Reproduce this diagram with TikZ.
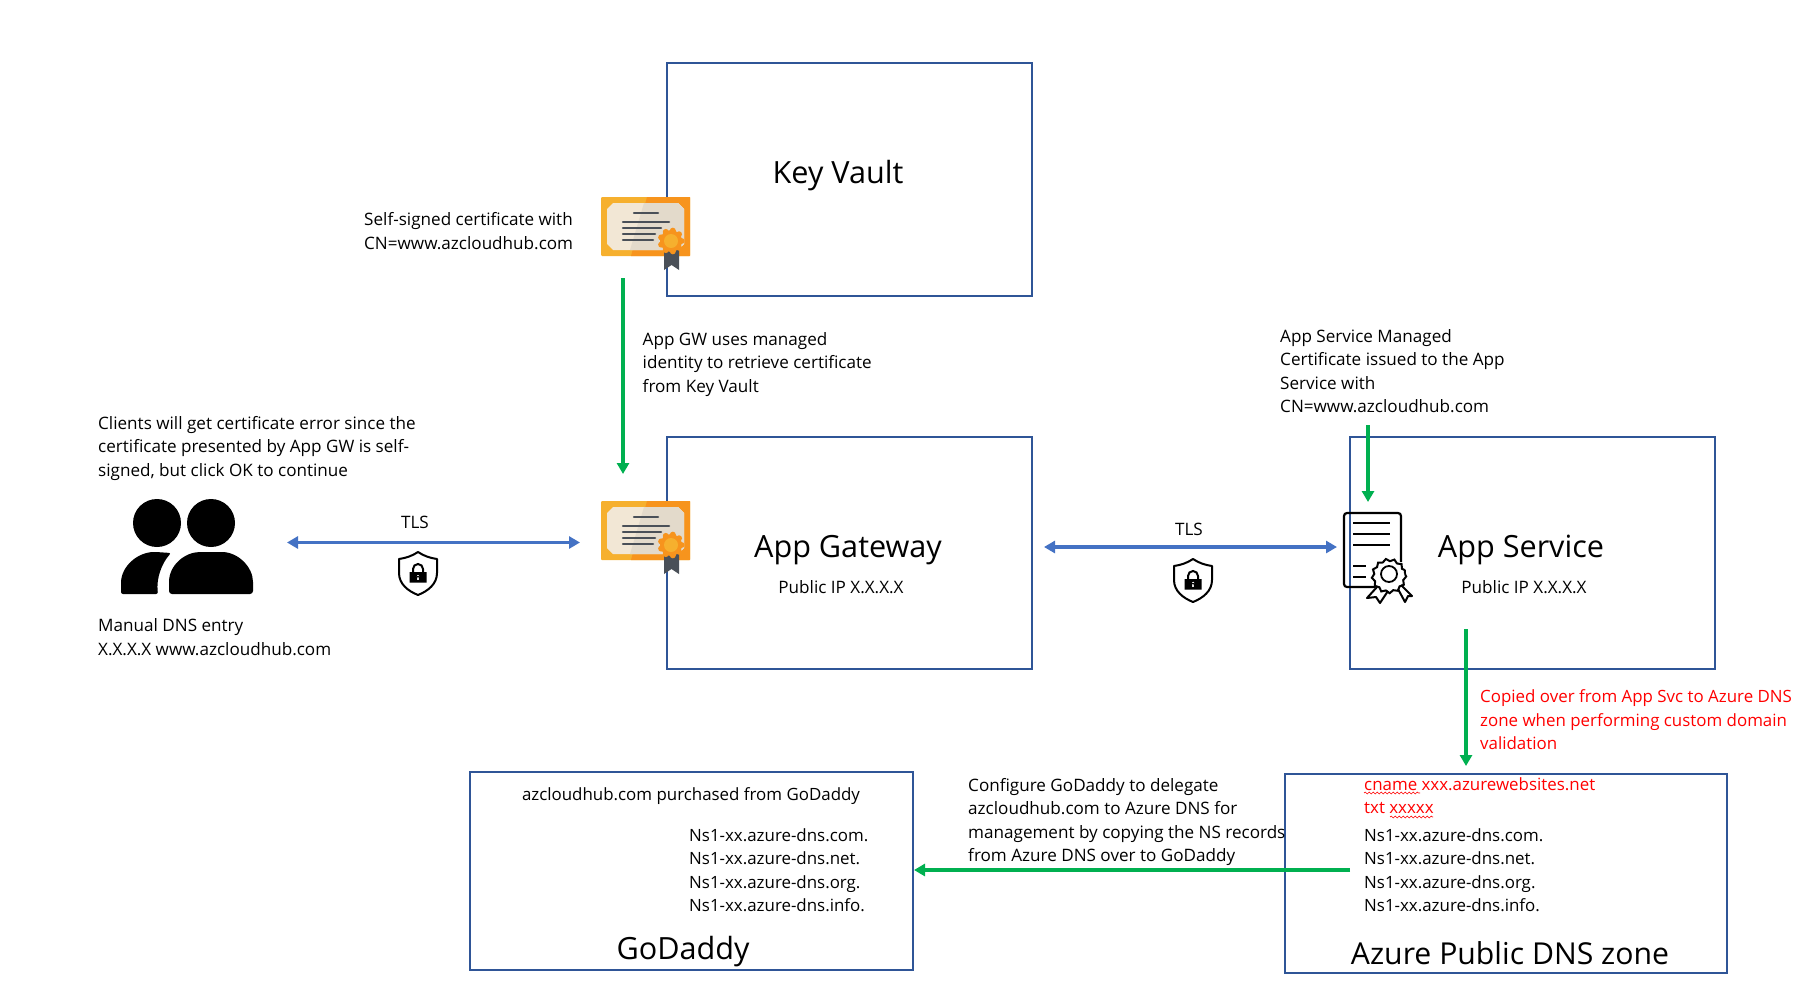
\documentclass[tikz,border=0pt]{standalone}
\usepackage{fontspec}
\setmainfont{Open Sans}
\usetikzlibrary{arrows.meta, decorations.pathmorphing}
\definecolor{boxblue}{HTML}{2F5597}
\definecolor{tlsblue}{HTML}{4472C4}
\definecolor{copygreen}{HTML}{00B050}
\definecolor{certdark}{HTML}{4A5058}
\tikzset{
  box/.style={draw=boxblue, line width=2pt, minimum width=#1, inner sep=0pt},
  small/.style={font=\fontsize{17.1}{23.5}\selectfont, align=left, inner sep=0pt, text depth=0pt},
  nslist/.style={font=\fontsize{16.9}{23.5}\selectfont, align=left, inner sep=0pt, text depth=0pt},
  big/.style={font=\fontsize{30.6}{36}\selectfont, inner sep=0pt},
  tls/.style={{Triangle[length=11pt,width=12pt]}-{Triangle[length=11pt,width=12pt]}, tlsblue, line width=3.5pt},
  copied/.style={-{Triangle[length=11pt,width=12pt]}, copygreen, line width=3.5pt},
  squiggle/.style={red, line width=0.6pt, decorate, decoration={snake, amplitude=0.9pt, segment length=4pt}},
  certicon/.pic={
    \fill[rounded corners=1pt, fill={rgb,255:red,246;green,176;blue,46}] (0,0) rectangle (89,59);
    \fill[fill={rgb,255:red,247;green,148;blue,29}] (46,0) -- (89,0) -- (89,59) -- (30,59) -- cycle;
    \fill[fill={rgb,255:red,242;green,231;blue,213}] (12,6) -- (77,6) -- (83,12) -- (83,47) -- (77,53) -- (12,53) -- (6,47) -- (6,12) -- cycle;
    \fill[fill={rgb,255:red,227;green,218;blue,203}] (43,6) -- (77,6) -- (83,12) -- (83,47) -- (77,53) -- (29,53) -- cycle;
    \draw[certdark, line width=2.5pt, line cap=round] (33,16) -- (57,16) (22,25) -- (68,25) (22,31) -- (60,31) (22,37) -- (54,37) (22,43) -- (52,43);
    \fill[certdark] (63,52) -- (78,52) -- (78,73) -- (70.5,68) -- (63,73) -- cycle;
    \fill[fill={rgb,255:red,247;green,148;blue,29}] (70,44) circle (11);
    \foreach \a in {0,40,...,320} {
      \fill[fill={rgb,255:red,247;green,148;blue,29}] (70,44) ++(\a:10.5) circle (3);
    }
    \fill[fill={rgb,255:red,246;green,176;blue,46}] (70,44) circle (7);
  },
  shieldicon/.pic={
    \fill[white] (-21,-1) rectangle (21,46);
    \draw[line width=2pt, line join=round] (0,1) .. controls (6,5) and (12,7) .. (19,8) -- (19,22) .. controls (19,33) and (10,40) .. (0,44) .. controls (-10,40) and (-19,33) .. (-19,22) -- (-19,8) .. controls (-12,7) and (-6,5) .. cycle;
    \draw[line width=2pt] (-5,22) -- (-5,18) arc[start angle=180, end angle=360, radius=5] -- (5,22);
    \fill[even odd rule] (-8.5,21) rectangle (8.5,31.5) (0,25) circle (1.5) (-0.8,25) rectangle (0.8,29);
  }
}
\begin{document}
\begin{tikzpicture}[x=1pt, y=-1pt]
  \useasboundingbox (0,0) rectangle (1812,1007);
  % boxes
  \node[box=365pt, minimum height=233pt] (vault) at (849.5,179.5) {};
  \node[box=365pt, minimum height=232pt] (gateway) at (849.5,553) {};
  \node[box=365pt, minimum height=232pt] (service) at (1532.5,553) {};
  \node[box=443pt, minimum height=198pt] (godaddy) at (691.5,871) {};
  \node[box=442pt, minimum height=199pt] (dnszone) at (1506,873.5) {};
  % box titles
  \node[big] (vaulttitle) at (838,176) {Key Vault};
  \node[big] (gatewaytitle) at (848,550) {App Gateway};
  \node[big] (servicetitle) at (1521,550) {App Service};
  \node[big] (godaddytitle) at (683,952) {GoDaddy};
  \node[big, font=\fontsize{30.2}{36}\selectfont] (dnstitle) at (1510,953) {Azure Public DNS zone};
  \node[small] (gatewayip) at (841,587) {Public IP X.X.X.X};
  \node[small] (serviceip) at (1524,587) {Public IP X.X.X.X};
  % notes
  \node[small, anchor=west] (selfnote) at (364,231) {Self-signed certificate with\\CN=www.azcloudhub.com};
  \node[small, anchor=west] (gwnote) at (642.5,362) {App GW uses managed\\identity to retrieve certificate\\from Key Vault};
  \node[small, anchor=west] (managednote) at (1280,371) {App Service Managed\\Certificate issued to the App\\Service with\\CN=www.azcloudhub.com};
  \node[small, anchor=west] (clientnote) at (98,446) {Clients will get certificate error since the\\certificate presented by App GW is self-\\signed, but click OK to continue};
  \node[small, anchor=west] (manualnote) at (98,637) {Manual DNS entry\\X.X.X.X www.azcloudhub.com};
  \node[nslist, anchor=west, text=red] (rednote) at (1480,720) {Copied over from App Svc to Azure DNS\\zone when performing custom domain\\validation};
  \node[small, anchor=west] (delegatenote) at (968,820) {Configure GoDaddy to delegate\\azcloudhub.com to Azure DNS for\\management by copying the NS records\\from Azure DNS over to GoDaddy};
  \node[nslist] (boughtnote) at (691,794) {azcloudhub.com purchased from GoDaddy};
  \node[nslist, anchor=west] (godaddyns) at (689,870) {Ns1-xx.azure-dns.com.\\Ns1-xx.azure-dns.net.\\Ns1-xx.azure-dns.org.\\Ns1-xx.azure-dns.info.};
  \node[nslist, anchor=west] (zonens) at (1364,870) {Ns1-xx.azure-dns.com.\\Ns1-xx.azure-dns.net.\\Ns1-xx.azure-dns.org.\\Ns1-xx.azure-dns.info.};
  \node[nslist, anchor=west, text=red] (cname) at (1364,784) {cname xxx.azurewebsites.net};
  \node[nslist, anchor=west, text=red] (txt) at (1364,808) {txt xxxxx};
  \node[small] (tlsleft) at (415,522) {TLS};
  \node[small] (tlsright) at (1189,529) {TLS};
  % red underlines
  \draw[squiggle] (1364,793) -- (1420,793);
  \draw[squiggle] (1390,817) -- (1433,817);
  % certificates
  \pic at (601,197) {certicon};
  \pic at (601,501) {certicon};
  % users
  \fill (157,523) circle (24);
  \fill (211,523) circle (24);
  \fill[rounded corners=3pt] (169,594) -- (169,585) .. controls (169,565) and (185,552) .. (203,552) -- (219,552) .. controls (238,552) and (253,567) .. (253,585) -- (253,594) -- cycle;
  \fill[rounded corners=2pt] (121,594) -- (121,585) .. controls (121,566) and (138,552) .. (156,552) -- (171,553) .. controls (162,563) and (156,578) .. (158,594) -- cycle;
  % shields
  \pic at (418,551) {shieldicon};
  \pic at (1193,558) {shieldicon};
  % issued certificate
  \draw[line width=2.2pt, rounded corners=3pt] (1375,587) -- (1344,587) -- (1344,513) -- (1401,513) -- (1401,562);
  \draw[line width=2pt] (1353,523) -- (1390,523) (1353,534) -- (1390,534) (1353,545) -- (1390,545) (1353,566) -- (1366,566) (1353,577) -- (1366,577);
  \draw[line width=2pt, line join=round, fill=white] (1377,587) -- (1367,598) -- (1376,597) -- (1380,603) -- (1388,591);
  \draw[line width=2pt, line join=round, fill=white] (1398,589) -- (1405,602) -- (1408,596) -- (1412,596) -- (1401,585);
  \fill[white] (1389,574) circle (16);
  \draw[line width=2pt, decorate, decoration={snake, amplitude=1.2pt, segment length=8pt}] (1389,574) ++(16,0) arc[start angle=0, end angle=359, radius=16];
  \draw[line width=1.8pt] (1389,574) circle (8);
  % connectors
  \coordinate (usersend) at (287,542.5);
  \coordinate (gatewayend) at (580,542.5);
  \coordinate (gatewayright) at (1044,547);
  \coordinate (serviceleft) at (1337,547);
  \coordinate (vaultcert) at (623,278);
  \coordinate (gatewaycert) at (623,474);
  \coordinate (managedend) at (1368,425);
  \coordinate (servicecert) at (1368,502);
  \coordinate (servicedown) at (1466,629);
  \coordinate (zonetop) at (1466,766);
  \coordinate (zoneleft) at (1350,870);
  \coordinate (godaddyright) at (914,870);
  \draw[tls] (usersend) -- (gatewayend);
  \draw[tls] (gatewayright) -- (serviceleft);
  \draw[copied] (vaultcert) -- (gatewaycert);
  \draw[copied] (managedend) -- (servicecert);
  \draw[copied] (servicedown) -- (zonetop);
  \draw[copied] (zoneleft) -- (godaddyright);
\end{tikzpicture}
\end{document}
